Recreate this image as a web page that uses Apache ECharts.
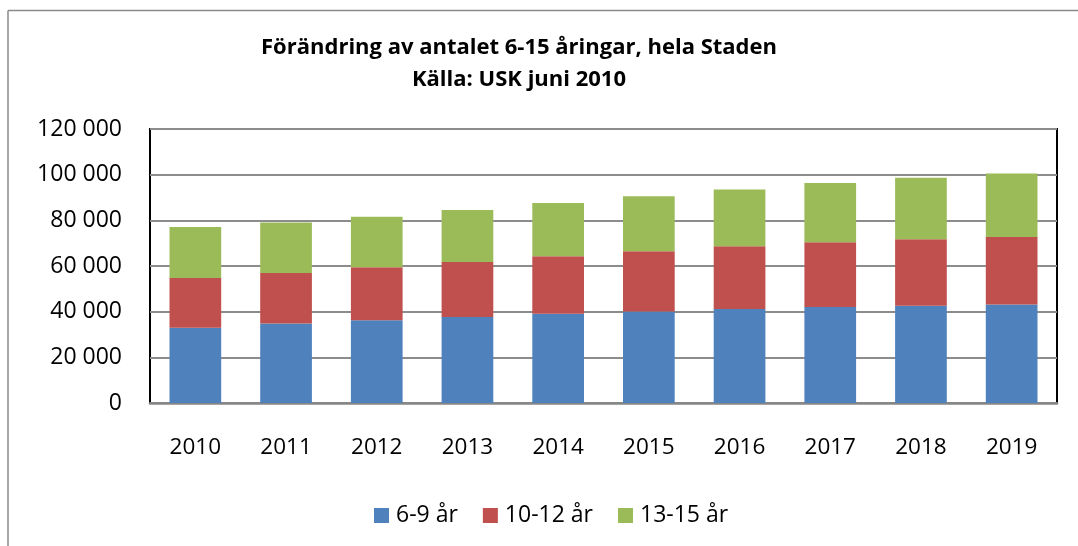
<!DOCTYPE html>
<html>
<head>
<meta charset="utf-8">
<script src="https://cdn.jsdelivr.net/npm/echarts@6/dist/echarts.min.js"></script>
<style>html,body{margin:0;padding:0;background:#fff;}#c{width:1078px;height:546px;}</style>
</head>
<body>
<div id="c"></div>
<script>
const categories = ['2010','2011','2012','2013','2014','2015','2016','2017','2018','2019'];
const age6to9 = [33000, 34800, 36200, 37700, 39100, 40100, 41200, 42000, 42600, 43100];
const age10to12 = [21700, 22100, 23300, 24100, 25200, 26400, 27500, 28400, 29100, 29600];
const age13to15 = [22400, 22200, 22100, 22700, 23300, 24100, 24800, 25900, 26900, 27800];
const seriesNames = ['6-9 år', '10-12 år', '13-15 år'];
const yTicks = {min: 0, max: 120000, interval: 20000};
const titleText = 'Förändring av antalet 6-15 åringar, hela Staden\nKälla: USK juni 2010';

const FONT = 'Open Sans';
const chart = echarts.init(document.getElementById('c'));
function fmt(v){ return String(v).replace(/\B(?=(\d{3})+(?!\d))/g, ' '); }
chart.setOption({
  backgroundColor: '#fff',
  animation: false,
  title: {
    text: titleText,
    left: 514, top: 27, textAlign: 'center',
    textStyle: {fontFamily: FONT, fontWeight: 'bold', fontSize: 22, lineHeight: 32, color: '#000'}
  },
  graphic: [
    {type: 'line', shape: {x1: 8, y1: 10.5, x2: 1078, y2: 10.5}, style: {stroke: '#8a8a8a', lineWidth: 1.5}},
    {type: 'line', shape: {x1: 8, y1: 10.5, x2: 8, y2: 546}, style: {stroke: '#8a8a8a', lineWidth: 1.5}}
  ],
  legend: {
    bottom: 14, left: 369,
    itemWidth: 15, itemHeight: 15, itemGap: 25,
    icon: 'rect',
    textStyle: {fontFamily: FONT, fontSize: 23, color: '#000', padding: [0,0,0,2]},
    data: seriesNames
  },
  grid: {left: 150, right: 21, top: 129, bottom: 143, show: true, borderColor: '#000', borderWidth: 2, containLabel: false},
  xAxis: {
    type: 'category', data: categories,
    axisLine: {show: true, lineStyle: {color: '#868686', width: 2.5}},
    axisTick: {show: false},
    axisLabel: {fontFamily: FONT, fontSize: 22.5, color: '#000', margin: 33}
  },
  yAxis: {
    type: 'value', min: yTicks.min, max: yTicks.max, interval: yTicks.interval,
    axisLine: {show: false}, axisTick: {show: false},
    splitLine: {lineStyle: {color: '#8c8c8c', width: 2}},
    axisLabel: {fontFamily: FONT, fontSize: 23, color: '#000', margin: 28, formatter: fmt}
  },
  series: [
    {name: seriesNames[0], type: 'bar', stack: 'a', data: age6to9, barWidth: '57%', itemStyle: {color: '#4F81BD'}},
    {name: seriesNames[1], type: 'bar', stack: 'a', data: age10to12, barWidth: '57%', itemStyle: {color: '#C0504D'}},
    {name: seriesNames[2], type: 'bar', stack: 'a', data: age13to15, barWidth: '57%', itemStyle: {color: '#9BBB59'}}
  ]
});
</script>
</body>
</html>
